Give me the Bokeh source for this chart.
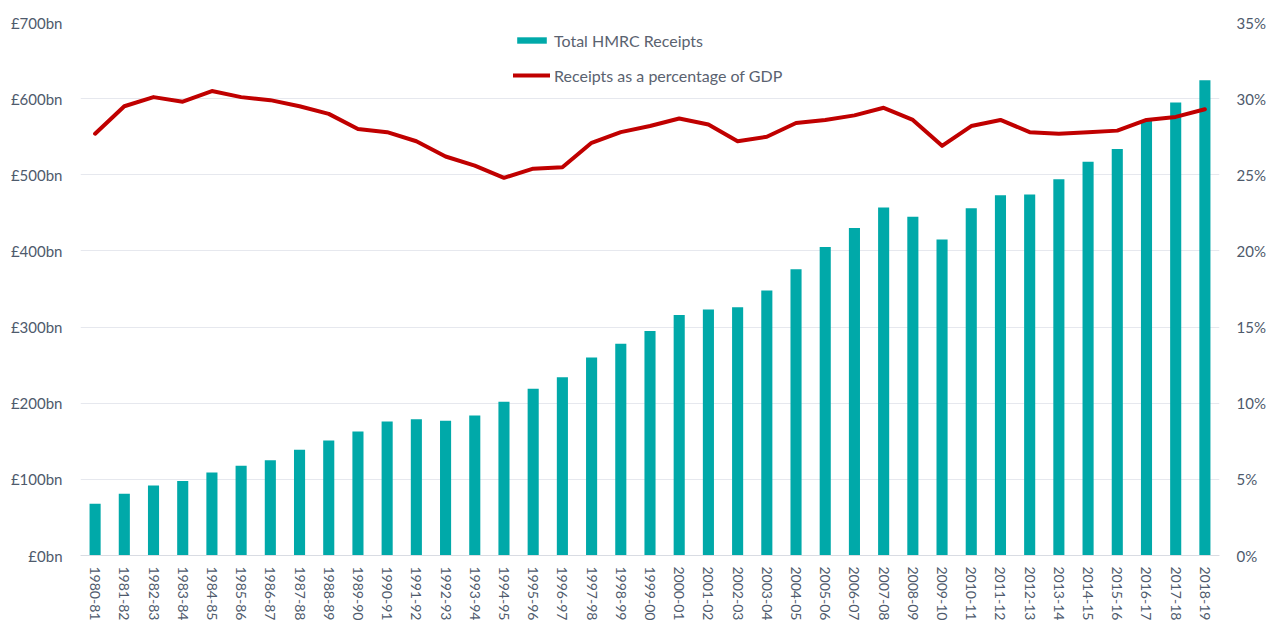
import math
from bokeh.plotting import figure
from bokeh.models import (ColumnDataSource, FactorRange, Range1d, LinearAxis,
                          PrintfTickFormatter, Legend, LegendItem, FixedTicker)
from bokeh.embed import file_html
from bokeh.resources import INLINE

years = ["1980-81", "1981-82", "1982-83", "1983-84", "1984-85", "1985-86", "1986-87",
         "1987-88", "1988-89", "1989-90", "1990-91", "1991-92", "1992-93", "1993-94",
         "1994-95", "1995-96", "1996-97", "1997-98", "1998-99", "1999-00", "2000-01",
         "2001-02", "2002-03", "2003-04", "2004-05", "2005-06", "2006-07", "2007-08",
         "2008-09", "2009-10", "2010-11", "2011-12", "2012-13", "2013-14", "2014-15",
         "2015-16", "2016-17", "2017-18", "2018-19"]

receipts_bn = [68, 81, 92, 98, 109, 118, 125, 139, 151, 163, 176, 179, 177, 184,
               202, 219, 234, 260, 278, 295, 316, 323, 326, 348, 376, 405, 430, 457,
               445, 415, 456, 473, 474, 494, 517, 534, 571, 595, 624]

pct_gdp = [27.7, 29.5, 30.1, 29.8, 30.5, 30.1, 29.9, 29.5, 29.0, 28.0, 27.8, 27.2,
           26.2, 25.6, 24.8, 25.4, 25.5, 27.1, 27.8, 28.2, 28.7, 28.3, 27.2, 27.5,
           28.4, 28.6, 28.9, 29.4, 28.6, 26.9, 28.2, 28.6, 27.8, 27.7, 27.8, 27.9,
           28.6, 28.8, 29.3]

left_ticks = [0, 100, 200, 300, 400, 500, 600, 700]
right_ticks = [0, 5, 10, 15, 20, 25, 30, 35]

TEAL = "#00A9A9"
RED = "#C00000"
TXT = "#4E5A6C"
GRID = "#E6E8EE"
FONT = "Lato"
FS = "15px"

source = ColumnDataSource(dict(year=years, receipts=receipts_bn, pct=pct_gdp))

p = figure(width=1268, height=623, x_range=FactorRange(*years, range_padding=0),
           y_range=Range1d(0, 700), output_backend="svg", toolbar_location=None,
           min_border_left=80, min_border_right=48, min_border_top=22,
           min_border_bottom=68)
p.extra_y_ranges = {"pct": Range1d(0, 35)}
p.outline_line_color = None

bars = p.vbar(x="year", top="receipts", width=0.38, source=source,
              fill_color=TEAL, line_color=None)
line = p.line(x="year", y="pct", source=source, y_range_name="pct",
              line_color=RED, line_width=4, line_cap="round", line_join="round")

# left axis
ax = p.yaxis[0]
ax.ticker = FixedTicker(ticks=left_ticks)
ax.formatter = PrintfTickFormatter(format="£%dbn")
ax.axis_line_color = None
ax.major_tick_line_color = None
ax.major_tick_out = 0
ax.minor_tick_line_color = None
ax.minor_tick_out = 0
ax.major_label_text_font = FONT
ax.major_label_text_font_size = FS
ax.major_label_text_color = TXT
ax.major_label_standoff = 18

# right axis
rax = LinearAxis(y_range_name="pct", ticker=FixedTicker(ticks=right_ticks),
                 formatter=PrintfTickFormatter(format="%d%%"))
rax.axis_line_color = None
rax.major_tick_line_color = None
rax.major_tick_out = 0
rax.minor_tick_line_color = None
rax.minor_tick_out = 0
rax.major_label_text_font = FONT
rax.major_label_text_font_size = FS
rax.major_label_text_color = TXT
rax.major_label_standoff = 17
p.add_layout(rax, "right")

# x axis
xa = p.xaxis[0]
xa.major_label_orientation = -math.pi / 2
xa.axis_line_color = "#D9DCE3"
xa.major_tick_line_color = None
xa.major_tick_out = 0
xa.minor_tick_line_color = None
xa.minor_tick_out = 0
xa.major_label_text_font = FONT
xa.major_label_text_font_size = "14px"
xa.major_label_text_color = TXT
xa.major_label_standoff = 11

p.xgrid.grid_line_color = None
p.ygrid.grid_line_color = GRID
p.ygrid.ticker = FixedTicker(ticks=left_ticks)

legend = Legend(items=[LegendItem(label="Total HMRC Receipts", renderers=[bars]),
                       LegendItem(label="Receipts as a percentage of GDP", renderers=[line])],
                location=(433, 470), orientation="vertical",
                padding=0, margin=0, spacing=15, label_height=20,
                glyph_width=37, glyph_height=8, label_standoff=4,
                border_line_alpha=0, background_fill_alpha=0,
                label_text_font=FONT, label_text_font_size="16px",
                label_text_color="#5A6270")
p.add_layout(legend, "center")

open("out.html", "w").write(file_html(p, INLINE))
